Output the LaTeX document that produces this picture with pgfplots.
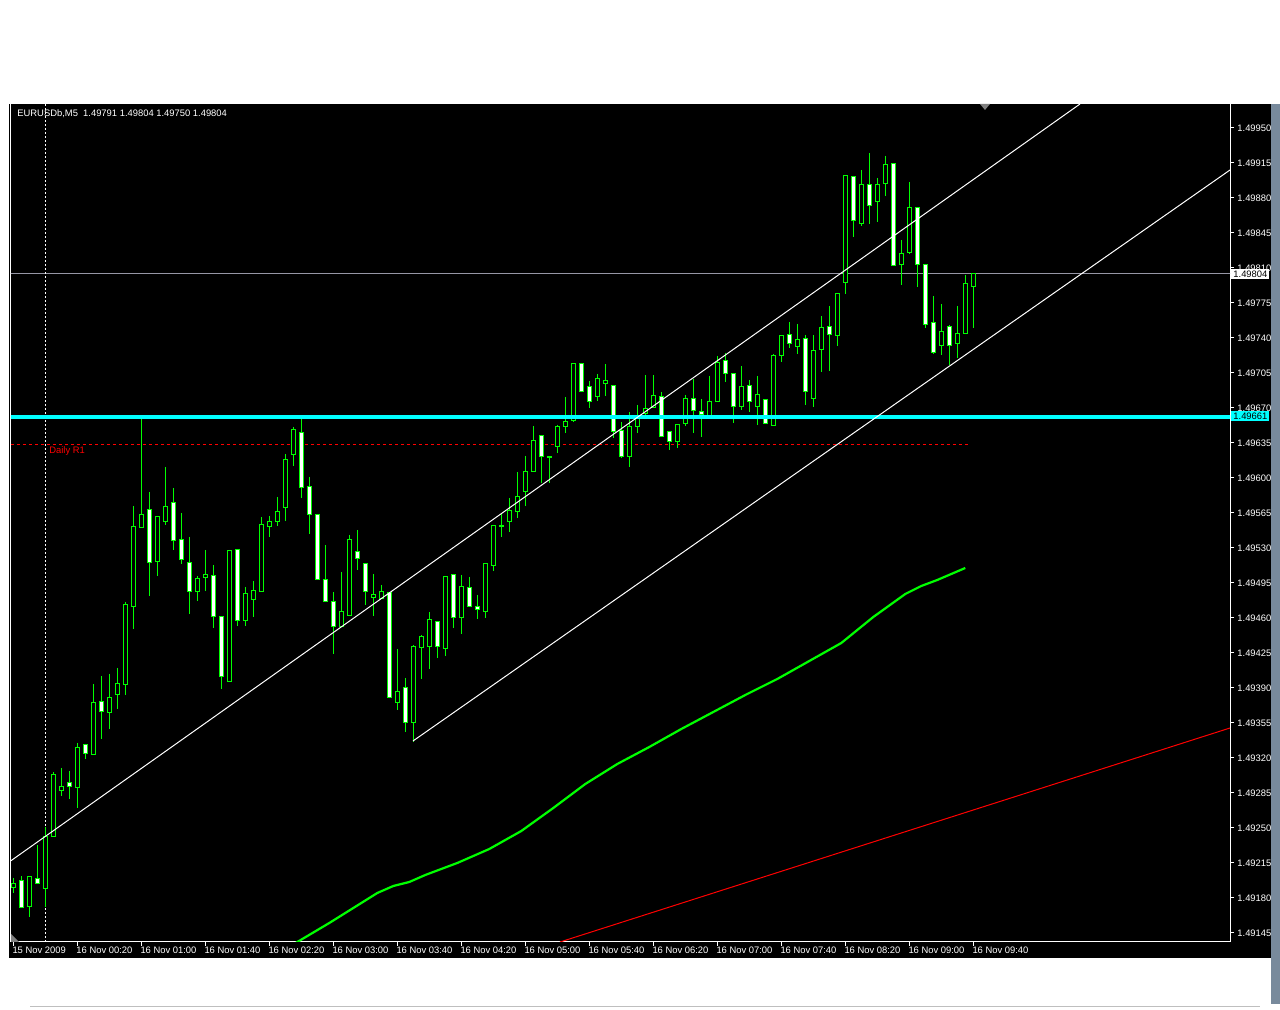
\documentclass[border=0pt]{standalone}
\usepackage{pgfplots}
\pgfplotsset{compat=1.18}
\usepackage{pgfplotstable}
\usepackage{fontspec}
\setmainfont{Liberation Sans}
\definecolor{mtgreen}{RGB}{0,255,0}
\definecolor{mtcyan}{RGB}{0,255,255}
\definecolor{bidgray}{RGB}{150,150,165}
\definecolor{scroll}{RGB}{120,138,156}

% EURUSD M5 candles; prices given in points (0.00001) above 1.49000
\pgfplotstableread{
i o h l c
0 190 200 185 194
1 197 202 170 170
2 171 201 161 201
3 199 233 194 194
4 189 251 171 241
5 241 306 241 303
6 287 310 282 291
7 295 307 279 291
8 290 335 270 330
9 333 334 319 324
10 323 394 323 375
11 376 402 339 366
12 365 404 349 380
13 383 410 369 394
14 393 476 383 473
15 471 572 449 551
16 550 660 550 563
17 568 586 482 515
18 516 562 502 561
19 556 611 553 571
20 575 590 528 537
21 538 565 514 518
22 515 541 464 486
23 486 502 477 499
24 500 528 487 503
25 502 513 450 461
26 461 461 389 401
27 396 528 396 527
28 528 528 452 457
29 457 491 452 484
30 478 497 461 487
31 486 561 486 553
32 551 562 541 556
33 556 581 552 566
34 570 624 557 618
35 623 651 612 648
36 645 659 580 590
37 591 601 544 563
38 563 563 498 498
39 498 533 476 476
40 476 486 424 451
41 451 506 451 466
42 462 543 462 538
43 526 548 508 519
44 514 514 473 486
45 480 504 462 483
46 479 493 479 486
47 485 485 380 380
48 375 429 368 386
49 390 400 346 355
50 355 433 336 431
51 430 443 399 441
52 431 466 409 458
53 456 456 420 431
54 429 501 422 501
55 503 504 450 460
56 460 503 444 491
57 490 501 471 471
58 471 483 459 468
59 466 514 460 514
60 512 552 507 552
61 551 564 541 552
62 556 580 546 567
63 566 606 560 581
64 586 622 572 606
65 606 652 606 637
66 642 642 595 621
67 620 621 595 621
68 631 653 625 651
69 651 681 645 656
70 657 714 656 714
71 714 715 686 686
72 691 697 670 676
73 681 704 677 699
74 694 714 682 697
75 692 692 640 646
76 647 656 620 621
77 621 666 611 651
78 651 673 645 659
79 664 703 660 669
80 670 703 670 682
81 681 686 641 641
82 646 646 628 636
83 636 653 630 653
84 654 683 652 679
85 679 699 645 667
86 666 679 641 663
87 662 702 661 676
88 676 722 676 715
89 717 725 696 704
90 704 704 655 671
91 671 712 668 691
92 692 698 666 676
93 671 702 653 683
94 678 678 654 654
95 652 724 652 722
96 722 742 716 742
97 743 756 730 734
98 731 754 724 738
99 739 743 673 686
100 679 743 671 727
101 728 762 706 750
102 751 772 707 743
103 742 785 732 784
104 795 902 784 902
105 901 902 841 857
106 854 908 852 893
107 893 925 854 872
108 876 900 856 893
109 894 922 882 913
110 914 914 812 812
111 813 838 793 824
112 825 896 824 870
113 870 870 791 813
114 813 813 750 753
115 755 782 724 725
116 732 774 723 746
117 751 753 713 732
118 734 772 720 744
119 744 803 744 794
120 791 804 750 804
}\candles

% moving average (points above 1.49000)
\pgfplotstableread{
i ma
33.5 126
35.5 136
39.5 155
43.5 175
45.5 185
47.5 192
49.5 196
51.5 203
55.5 215
59.5 229
63.5 247
67.5 270
71.5 294
75.5 314
79.5 331
83.5 349
87.5 366
91.5 383
95.5 399
99.5 417
103.5 435
107.5 461
111.5 484
113.5 492
115.5 498
119 510
}\matable

\begin{document}
\begin{tikzpicture}
\fill[white] (0pt,0pt) rectangle (640pt,505pt);
\fill[black] (4.5pt,26pt) rectangle (635.5pt,453pt);
\fill[scroll] (635.5pt,3pt) rectangle (640pt,453pt);
\draw[black!25, line width=0.5pt] (15pt,1.5pt) -- (630pt,1.5pt);
\begin{axis}[
  at={(5.5pt,34pt)}, anchor=south west,
  scale only axis, width=609.5pt, height=419pt,
  xmin=-0.2875, xmax=152.0875, ymin=136, ymax=974,
  clip=true,
  axis line style={white, line width=0.5pt},
  tick style={white, line width=0.5pt},
  tick align=outside, major tick length=2pt,
  xtick pos=bottom, ytick pos=right, yticklabel pos=right,
  xtick={0,8,...,120},
  xticklabels={15 Nov 2009,16 Nov 00:20,16 Nov 01:00,16 Nov 01:40,16 Nov 02:20,16 Nov 03:00,16 Nov 03:40,16 Nov 04:20,16 Nov 05:00,16 Nov 05:40,16 Nov 06:20,16 Nov 07:00,16 Nov 07:40,16 Nov 08:20,16 Nov 09:00,16 Nov 09:40},
  ytick={145,180,...,950},
  yticklabels={1.49145,1.49180,1.49215,1.49250,1.49285,1.49320,1.49355,1.49390,1.49425,1.49460,1.49495,1.49530,1.49565,1.49600,1.49635,1.49670,1.49705,1.49740,1.49775,1.49810,1.49845,1.49880,1.49915,1.49950},
  every tick label/.append style={font=\fontsize{4.7}{5.6}\selectfont, text=white, inner sep=0pt},
  xticklabel style={anchor=north west, xshift=-0.6pt, yshift=-0.5pt},
  yticklabel style={anchor=west, xshift=1.5pt},
]
% horizontal reference lines
\addplot[bidgray, line width=0.5pt, forget plot] coordinates {(-1,804) (153,804)};
\addplot[red, line width=0.5pt, dash pattern=on 1.5pt off 1.5pt, forget plot] coordinates {(-0.3,633) (119.6,633)};
\addplot[white, line width=0.5pt, dash pattern=on 1pt off 1pt, forget plot] coordinates {(4,100) (4,1000)};
% moving average and red trend line
\addplot[red, line width=0.5pt, forget plot] coordinates {(68.34,136) (152.09,350)};
\addplot[mtgreen, line width=1.1pt, forget plot] table[x=i, y=ma] {\matable};
% wicks
\addplot[draw=none, mark=none, forget plot,
  error bars/.cd, y dir=minus, y explicit, error mark=none,
  error bar style={draw=mtgreen, line width=0.5pt}]
  table[x=i, y=h, y error minus expr={\thisrow{h}-\thisrow{l}}] {\candles};
% body outline
\addplot[draw=none, mark=none, forget plot,
  error bars/.cd, y dir=minus, y explicit, error mark=none,
  error bar style={draw=mtgreen, line width=2.5pt, line cap=butt}]
  table[x=i, y expr={max(\thisrow{o},\thisrow{c})+0.5}, y error minus expr={abs(\thisrow{c}-\thisrow{o})+1}] {\candles};
% bull interior (black)
\addplot[draw=none, mark=none, forget plot,
  error bars/.cd, y dir=minus, y explicit, error mark=none,
  error bar style={draw=black, line width=1.5pt, line cap=butt}]
  table[x=i, y expr={\thisrow{c}-0.5}, y error minus expr={max(\thisrow{c}-\thisrow{o}-1,0)}] {\candles};
% bear interior (white)
\addplot[draw=none, mark=none, forget plot,
  error bars/.cd, y dir=minus, y explicit, error mark=none,
  error bar style={draw=white, line width=1.5pt, line cap=butt}]
  table[x=i, y expr={\thisrow{o}-0.5}, y error minus expr={max(\thisrow{o}-\thisrow{c}-1,0)}] {\candles};
% cyan level
\addplot[mtcyan, line width=2pt, forget plot] coordinates {(-1,661) (153,661)};
% channel lines
\addplot[white, line width=0.5pt, forget plot] coordinates {(-0.2875,217.3) (133.34,974)};
\addplot[white, line width=0.5pt, forget plot] coordinates {(49.96,337) (152.09,908)};
\node[anchor=west, text=red, inner sep=0pt, font=\fontsize{4.7}{5.6}\selectfont] at (axis cs:4.46,627) {Daily R1};
\end{axis}
% labels outside plot
\node[anchor=west, text=white, inner sep=0pt, font=\fontsize{4.7}{5.6}\selectfont] at (8.5pt,448pt) {EURUSDb,M5\ \ 1.49791 1.49804 1.49750 1.49804};
\node[anchor=west, fill=white, text=black, inner sep=0.6pt, minimum width=19pt, font=\fontsize{4.7}{5.6}\selectfont] at (615.5pt,368pt) {1.49804};
\node[anchor=west, fill=mtcyan, text=black, inner sep=0.6pt, minimum width=19pt, font=\fontsize{4.7}{5.6}\selectfont] at (615.5pt,297pt) {1.49661};
\fill[gray] (490pt,453pt) -- (495pt,453pt) -- (492.5pt,450pt) -- cycle;
\fill[gray] (5.5pt,34pt) -- (5.5pt,38pt) -- (9.5pt,34pt) -- cycle;
\end{tikzpicture}
\end{document}
